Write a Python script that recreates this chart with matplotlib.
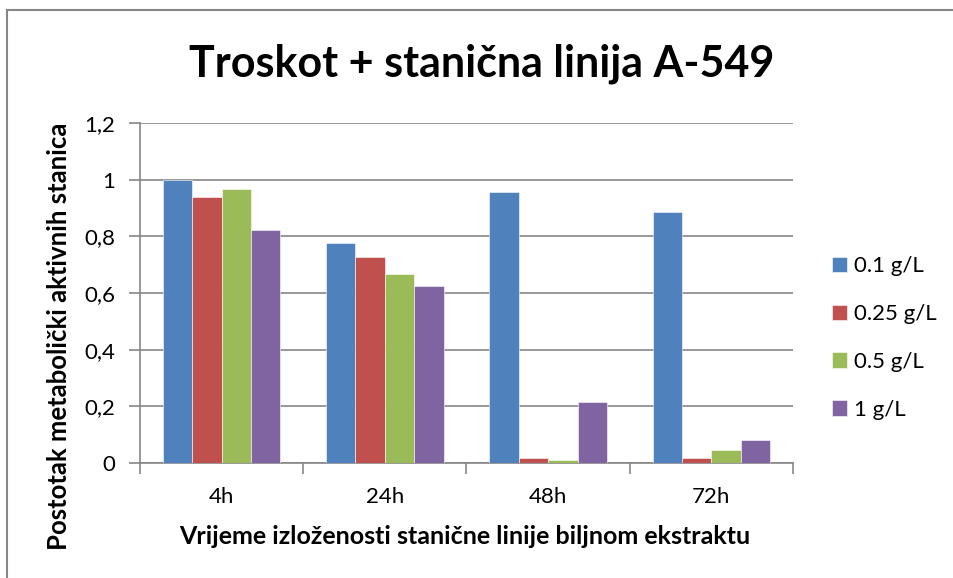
import numpy as np
import matplotlib
matplotlib.use("agg")
import matplotlib.pyplot as plt
from matplotlib.lines import Line2D

plt.rcParams['font.family'] = ['Lato', 'DejaVu Sans']

categories = ["4h", "24h", "48h", "72h"]
series_names = ["0.1 g/L", "0.25 g/L", "0.5 g/L", "1 g/L"]
conc_01 = [1.0, 0.776, 0.955, 0.885]
conc_025 = [0.94, 0.726, 0.016, 0.016]
conc_05 = [0.967, 0.667, 0.01, 0.046]
conc_1 = [0.822, 0.623, 0.216, 0.082]
series = [conc_01, conc_025, conc_05, conc_1]
colors = ["#4f81bd", "#c0504d", "#9bbb59", "#8064a2"]
yticks = [0, 0.2, 0.4, 0.6, 0.8, 1.0, 1.2]
ytick_labels = ["0", "0,2", "0,4", "0,6", "0,8", "1", "1,2"]

fig = plt.figure(figsize=(9.54, 5.78), dpi=100)
ax = fig.add_axes([140/954, 1-463/578, (793-140)/954, (463-123)/578])

x = np.arange(len(categories))
w = 0.18
for i, s in enumerate(series):
    ax.bar(x + (i - 1.5)*w, s, w, color=colors[i], label=series_names[i],
           edgecolor="white", linewidth=0.4, zorder=3)

ax.set_xlim(-0.5, 3.5)
ax.set_ylim(0, 1.2)
ax.set_yticks(yticks)
ax.set_yticklabels(ytick_labels, fontsize=16)
ax.set_xticks(x)
ax.set_xticklabels(categories, fontsize=16)
ax.set_xticks(np.arange(-0.5, 4.0, 1.0), minor=True)
ax.tick_params(axis="x", which="major", length=0, pad=17)
ax.tick_params(axis="x", which="minor", length=8, width=1.2, color="#868686")
ax.tick_params(axis="y", length=8, width=1.2, color="#868686", pad=10)
ax.yaxis.grid(True, color="#868686", linewidth=1.2, zorder=0)
for sp in ["top", "right"]:
    ax.spines[sp].set_visible(False)
for sp in ["left", "bottom"]:
    ax.spines[sp].set_color("#868686")
    ax.spines[sp].set_linewidth(1.2)

fig.text(482/954, 1-77/578, "Troskot + stanična linija A-549", fontsize=31,
         fontweight="bold", ha="center", va="baseline")
fig.text(465/954, 1-544/578, "Vrijeme izloženosti stanične linije biljnom ekstraktu",
         fontsize=18, fontweight="bold", ha="center", va="baseline")
fig.text(59/954, 1-336/578, "Postotak metabolički aktivnih stanica", fontsize=18.5,
         fontweight="bold", ha="center", va="center", rotation=90)

ax.legend(loc="center left", bbox_to_anchor=(821/954, 1-338/578),
          bbox_transform=fig.transFigure, frameon=False, fontsize=16, borderpad=0,
          handlelength=0.68, handleheight=0.68, handletextpad=0.32, labelspacing=1.25)

fig.add_artist(Line2D([7.5/954, 7.5/954], [0, 1-10/578], color="#868686", lw=1.5))
fig.add_artist(Line2D([7.5/954, 1], [1-10/578, 1-10/578], color="#868686", lw=1.5))

fig.savefig("out.png", dpi=100)
